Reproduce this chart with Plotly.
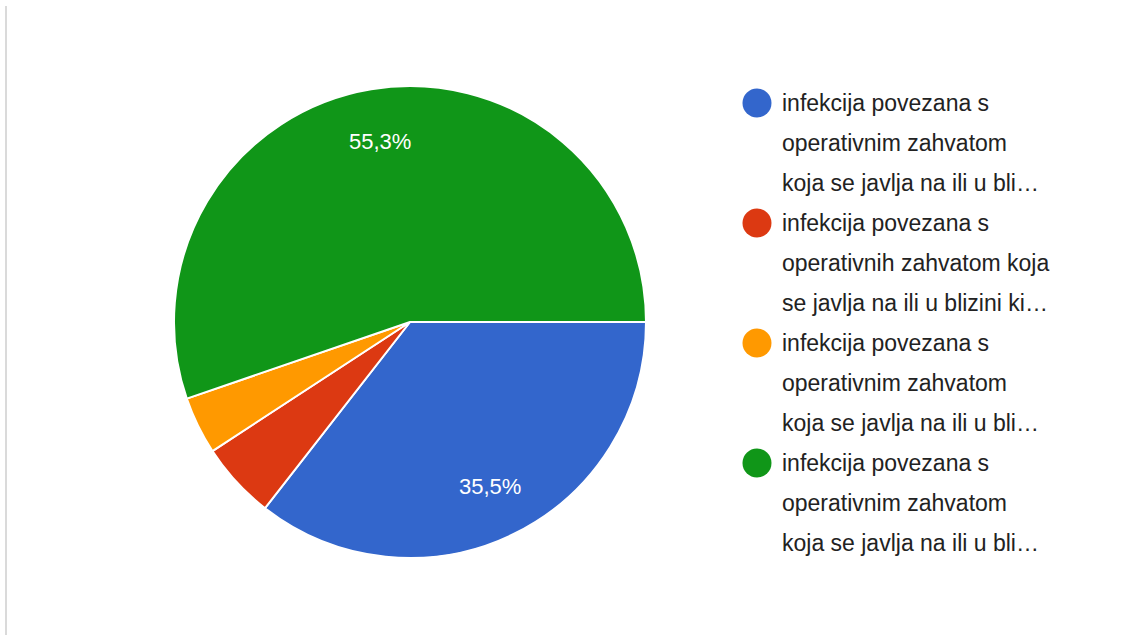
import math
import plotly.graph_objects as go

W, H = 1129, 635

# answer counts (76 responses)
counts = [27, 4, 3, 42]
colors = ["#3366cc", "#dc3912", "#ff9900", "#109618"]
show_pct = [True, False, False, True]

# legend text, already wrapped/truncated like the form summary
legend_lines = [
    ["infekcija povezana s", "operativnim zahvatom", "koja se javlja na ili u bli…"],
    ["infekcija povezana s", "operativnih zahvatom koja", "se javlja na ili u blizini ki…"],
    ["infekcija povezana s", "operativnim zahvatom", "koja se javlja na ili u bli…"],
    ["infekcija povezana s", "operativnim zahvatom", "koja se javlja na ili u bli…"],
]

FONT = "Arial, 'Liberation Sans', sans-serif"

# pie placement (pixels)
cx, cy, r = 410, 322, 236

fig = go.Figure()
fig.add_trace(go.Pie(
    values=counts,
    labels=[f"opt{i}" for i in range(len(counts))],
    sort=False,
    direction="clockwise",
    rotation=90,
    marker=dict(colors=colors, line=dict(color="white", width=2)),
    textinfo="none",
    hoverinfo="percent+value",
    showlegend=False,
    domain=dict(x=[(cx - r) / W, (cx + r) / W], y=[(H - cy - r) / H, (H - cy + r) / H]),
))

annotations = []

# percentage labels, placed at the middle angle of each slice
total = sum(counts)
start = 0.0
for c, s in zip(counts, show_pct):
    frac = c / total
    mid = (start + frac / 2) * 2 * math.pi  # clockwise from 3 o'clock
    start += frac
    if not s:
        continue
    px_ = cx + 0.775 * r * math.cos(mid)
    py_ = cy + 0.775 * r * math.sin(mid)
    annotations.append(dict(
        text=f"{frac * 100:.1f}%".replace(".", ","),
        xref="paper", yref="paper", x=px_ / W, y=(H - py_) / H,
        xanchor="center", yanchor="middle", showarrow=False,
        font=dict(family=FONT, size=22, color="white"),
    ))

# legend: circle marker + three text lines per item
leg_x, leg_y0, item_step, line_step = 757, 103, 120, 40
shapes = []
for i, lines in enumerate(legend_lines):
    y = leg_y0 + i * item_step
    shapes.append(dict(
        type="circle", xref="paper", yref="paper",
        x0=(leg_x - 14.5) / W, x1=(leg_x + 14.5) / W,
        y0=(H - y - 14.5) / H, y1=(H - y + 14.5) / H,
        fillcolor=colors[i], line=dict(width=0),
    ))
    for j, txt in enumerate(lines):
        annotations.append(dict(
            text=txt, xref="paper", yref="paper",
            x=780 / W, y=(H - (y + j * line_step)) / H,
            xanchor="left", yanchor="middle", showarrow=False,
            font=dict(family=FONT, size=23, color="#222222"),
        ))

# card border on the left
shapes.append(dict(
    type="line", xref="paper", yref="paper",
    x0=6 / W, x1=6 / W, y0=0, y1=(H - 6) / H,
    line=dict(color="#dadada", width=2),
))

fig.update_layout(
    width=W, height=H,
    margin=dict(l=0, r=0, t=0, b=0),
    paper_bgcolor="white",
    plot_bgcolor="white",
    shapes=shapes,
    annotations=annotations,
)

fig.write_html(
    "out.html",
    config={"displayModeBar": False},
    post_script="document.body.style.margin='0';",
)
